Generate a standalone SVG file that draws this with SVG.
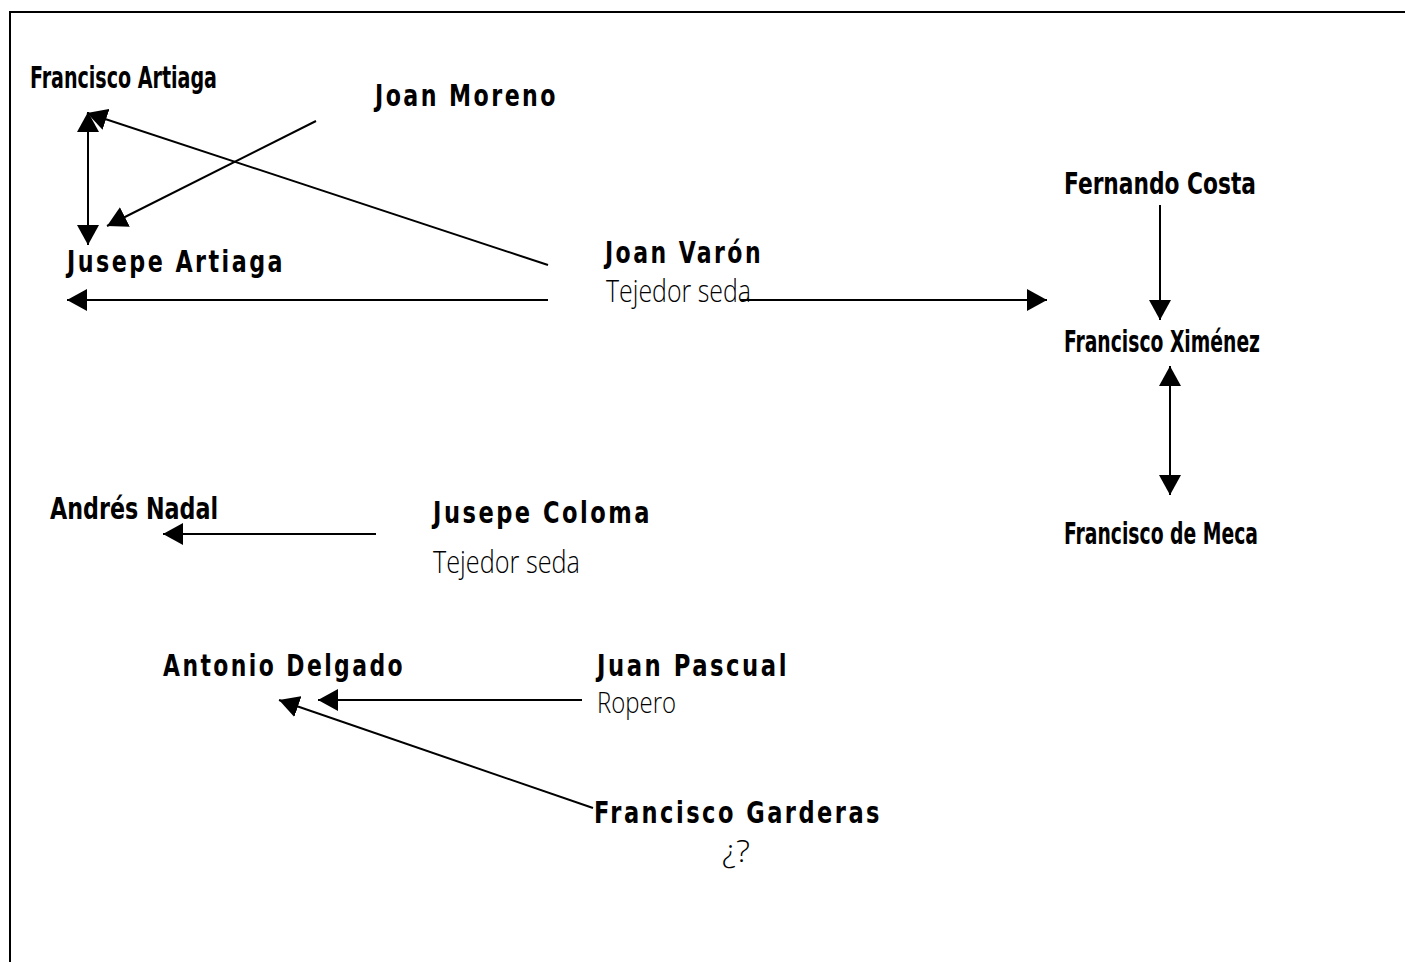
<svg xmlns="http://www.w3.org/2000/svg" width="1405" height="962" viewBox="0 0 1405 962">
<style>
.b{font-family:"DejaVu Sans Condensed","Liberation Sans",sans-serif;font-weight:bold;font-size:30px;letter-spacing:3px;fill:#000}
.c{font-family:"DejaVu Sans Condensed","Liberation Sans",sans-serif;font-weight:bold;font-size:30px;fill:#000}
.l{font-family:"Open Sans","Liberation Sans",sans-serif;font-weight:300;font-size:32px;fill:#000}
.e{stroke:#000;stroke-width:2;fill:none}
</style>
<defs>
<marker id="ah" markerUnits="userSpaceOnUse" markerWidth="22" markerHeight="22" refX="20" refY="11" orient="auto-start-reverse">
<path d="M0,0 L20,11 L0,22 z" fill="#000"/>
</marker>
</defs>
<rect x="10" y="12" width="1420" height="980" fill="#fff" stroke="#000" stroke-width="2"/>
<g id="connectors">
<line class="e" x1="88" y1="112" x2="88" y2="245" marker-start="url(#ah)" marker-end="url(#ah)"/>
<line class="e" x1="316" y1="121" x2="107" y2="226" marker-end="url(#ah)"/>
<line class="e" x1="548" y1="265" x2="87" y2="113" marker-end="url(#ah)"/>
<line class="e" x1="548" y1="300" x2="67" y2="300" marker-end="url(#ah)"/>
<line class="e" x1="740" y1="300" x2="1047" y2="300" marker-end="url(#ah)"/>
<line class="e" x1="1160" y1="205" x2="1160" y2="320" marker-end="url(#ah)"/>
<line class="e" x1="1170" y1="366" x2="1170" y2="495" marker-start="url(#ah)" marker-end="url(#ah)"/>
<line class="e" x1="376" y1="534" x2="163" y2="534" marker-end="url(#ah)"/>
<line class="e" x1="582" y1="700" x2="318" y2="700" marker-end="url(#ah)"/>
<line class="e" x1="593" y1="808" x2="279" y2="700" marker-end="url(#ah)"/>
</g>
<g id="francisco-artiaga"><text class="c" x="30" y="88" textLength="187" lengthAdjust="spacingAndGlyphs">Francisco Artiaga</text></g>
<g id="joan-moreno"><text class="b" x="375" y="106" textLength="183" lengthAdjust="spacingAndGlyphs">Joan Moreno</text></g>
<g id="fernando-costa"><text class="c" x="1064" y="194" textLength="192" lengthAdjust="spacingAndGlyphs">Fernando Costa</text></g>
<g id="jusepe-artiaga"><text class="b" x="67" y="272" textLength="218" lengthAdjust="spacingAndGlyphs">Jusepe Artiaga</text></g>
<g id="joan-varon"><text class="b" x="605" y="263" textLength="158" lengthAdjust="spacingAndGlyphs">Joan Varón</text><text class="l" x="606" y="302" textLength="145" lengthAdjust="spacingAndGlyphs">Tejedor seda</text></g>
<g id="francisco-ximenez"><text class="c" x="1064" y="352" textLength="196" lengthAdjust="spacingAndGlyphs">Francisco Ximénez</text></g>
<g id="andres-nadal"><text class="c" x="50" y="519" textLength="168" lengthAdjust="spacingAndGlyphs">Andrés Nadal</text></g>
<g id="jusepe-coloma"><text class="b" x="433" y="523" textLength="219" lengthAdjust="spacingAndGlyphs">Jusepe Coloma</text><text class="l" x="433" y="573" textLength="147" lengthAdjust="spacingAndGlyphs">Tejedor seda</text></g>
<g id="francisco-de-meca"><text class="c" x="1064" y="544" textLength="194" lengthAdjust="spacingAndGlyphs">Francisco de Meca</text></g>
<g id="antonio-delgado"><text class="b" x="163" y="676" textLength="242" lengthAdjust="spacingAndGlyphs">Antonio Delgado</text></g>
<g id="juan-pascual"><text class="b" x="597" y="676" textLength="192" lengthAdjust="spacingAndGlyphs">Juan Pascual</text><text class="l" x="597" y="713" style="font-size:30px" textLength="79" lengthAdjust="spacingAndGlyphs">Ropero</text></g>
<g id="francisco-garderas"><text class="b" x="594" y="823" textLength="288" lengthAdjust="spacingAndGlyphs">Francisco Garderas</text><text class="l" x="722" y="862" textLength="28" lengthAdjust="spacingAndGlyphs">¿?</text></g>
</svg>
